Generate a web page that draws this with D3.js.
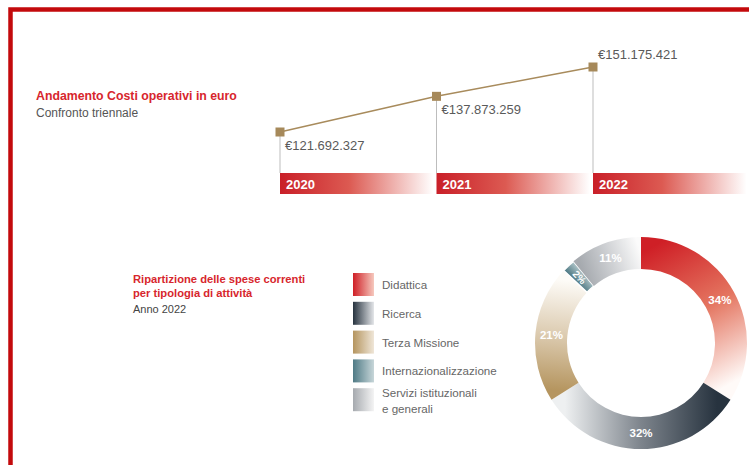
<!DOCTYPE html>
<html>
<head>
<meta charset="utf-8">
<script src="https://cdn.jsdelivr.net/npm/d3@7"></script>
<style>
  html, body { margin: 0; padding: 0; background: #fff; }
  svg { display: block; font-family: "Liberation Sans", Arial, sans-serif; }
</style>
</head>
<body>
<svg id="chart" width="749" height="465"></svg>
<script>
// Operating costs per year (euro)
const years = ["2020", "2021", "2022"];
const costs = [121692327, 137873259, 151175421];
const costLabels = ["€121.692.327", "€137.873.259", "€151.175.421"];

// Current expenditure by activity type, 2022 (%)
const activities = ["Didattica", "Ricerca", "Terza Missione", "Internazionalizzazione", "Servizi istituzionali e generali"];
const shares = [34, 32, 21, 2, 11];
const shareLabels = ["34%", "32%", "21%", "2%", "11%"];
const legendLines = [["Didattica"], ["Ricerca"], ["Terza Missione"], ["Internazionalizzazione"], ["Servizi istituzionali", "e generali"]];
const gradStart = ["#cf1f26", "#27333f", "#b5955f", "#4f7a85", "#a6aaaf"];
const gradMid   = ["#e47560", "#7d848c", "#dccbb0", "#7c9ca3", "#cfd1d4"];
const gradEnd   = ["#fffaf8", "#eef0f1", "#fdfbf7", "#a9c0c5", "#fbfbfb"];
const legendEnd = ["#f6c9be", "#e4e6e9", "#efe6d8", "#c7d6d9", "#f4f4f4"];

const svg = d3.select("#chart");
const defs = svg.append("defs");

// Red page frame
svg.append("path")
  .attr("d", "M10.5,465 L10.5,9.5 L749,9.5")
  .attr("fill", "none").attr("stroke", "#c30a0c").attr("stroke-width", 4.5);

// ---- Line chart: operating costs ----
svg.append("text").attr("x", 36).attr("y", 100)
  .attr("fill", "#d7262d").attr("font-weight", "bold").attr("font-size", 12.3)
  .text("Andamento Costi operativi in euro");
svg.append("text").attr("x", 36).attr("y", 117)
  .attr("fill", "#555").attr("font-size", 12)
  .text("Confronto triennale");

const x = d3.scalePoint().domain(years).range([280, 593]);
const y = d3.scaleLinear().domain([121692327, 151175421]).range([132, 67]);
const bandW = x.step();
const barTop = 173, barH = 21;

const yearGrad = defs.append("linearGradient").attr("id", "yearGrad")
  .attr("x1", 0).attr("x2", 1).attr("y1", 0).attr("y2", 0);
yearGrad.append("stop").attr("offset", 0).attr("stop-color", "#c91f28");
yearGrad.append("stop").attr("offset", 0.45).attr("stop-color", "#dc5a52");
yearGrad.append("stop").attr("offset", 1).attr("stop-color", "#ffffff");

const pts = years.map((yr, i) => ({ yr, v: costs[i], label: costLabels[i] }));

// year bands
svg.selectAll("rect.year").data(pts).join("rect").attr("class", "year")
  .attr("x", d => x(d.yr)).attr("y", barTop)
  .attr("width", bandW - 3).attr("height", barH)
  .attr("fill", "url(#yearGrad)");
svg.selectAll("text.year").data(pts).join("text").attr("class", "year")
  .attr("x", d => x(d.yr) + 6).attr("y", barTop + 15.5)
  .attr("fill", "#fff").attr("font-weight", "bold").attr("font-size", 13)
  .text(d => d.yr);

// drop lines
svg.selectAll("line.drop").data(pts).join("line").attr("class", "drop")
  .attr("x1", d => x(d.yr)).attr("x2", d => x(d.yr))
  .attr("y1", d => y(d.v)).attr("y2", barTop)
  .attr("stroke", "#bdbdbd").attr("stroke-width", 1);

// trend line
svg.append("path").datum(pts)
  .attr("d", d3.line().x(d => x(d.yr)).y(d => y(d.v)))
  .attr("fill", "none").attr("stroke", "#a88b5c").attr("stroke-width", 1.5);

// markers
svg.selectAll("rect.mark").data(pts).join("rect").attr("class", "mark")
  .attr("x", d => x(d.yr) - 4.5).attr("y", d => y(d.v) - 4.5)
  .attr("width", 9).attr("height", 9).attr("fill", "#a6895a");

// value labels
svg.selectAll("text.val").data(pts).join("text").attr("class", "val")
  .attr("x", d => x(d.yr) + 5).attr("y", (d, i) => i === 2 ? y(d.v) - 8 : y(d.v) + 18)
  .attr("fill", "#5a5a5a").attr("font-size", 13)
  .text(d => d.label);

// ---- Donut: expenditure by activity ----
svg.append("text").attr("x", 133).attr("y", 283)
  .attr("fill", "#d7262d").attr("font-weight", "bold").attr("font-size", 11.2)
  .text("Ripartizione delle spese correnti");
svg.append("text").attr("x", 133).attr("y", 297)
  .attr("fill", "#d7262d").attr("font-weight", "bold").attr("font-size", 11.2)
  .text("per tipologia di attività");
svg.append("text").attr("x", 133).attr("y", 313)
  .attr("fill", "#444").attr("font-size", 11)
  .text("Anno 2022");

// legend
const lg = svg.append("g").attr("transform", "translate(353,273)");
activities.forEach((a, i) => {
  const g = defs.append("linearGradient").attr("id", "lg" + i)
    .attr("x1", 0).attr("x2", 1).attr("y1", 0).attr("y2", 0);
  g.append("stop").attr("offset", 0).attr("stop-color", gradStart[i]);
  g.append("stop").attr("offset", 1).attr("stop-color", legendEnd[i]);
});
const item = lg.selectAll("g").data(activities).join("g")
  .attr("transform", (d, i) => `translate(0,${i * 28.8})`);
item.append("rect").attr("width", 21).attr("height", 23)
  .attr("fill", (d, i) => `url(#lg${i})`);
item.each(function (d, i) {
  const lines = legendLines[i];
  const t = d3.select(this).append("text").attr("x", 29)
    .attr("fill", "#666").attr("font-size", 11.6);
  lines.forEach((l, j) => {
    t.append("tspan").attr("x", 29)
      .attr("y", lines.length === 1 ? 16 : 9 + j * 15.5).text(l);
  });
});

// donut
const cx = 641, cy = 343, rOut = 106, rIn = 74;
const dg = svg.append("g").attr("transform", `translate(${cx},${cy})`);
const pie = d3.pie().sort(null).value(d => d.v);
const arcs = pie(shares.map((v, i) => ({ v, i })));
const arc = d3.arc().innerRadius(rIn).outerRadius(rOut);
const rMid = (rIn + rOut) / 2;
const pt = (a, r) => [r * Math.sin(a), -r * Math.cos(a)];

arcs.forEach(a => {
  const i = a.data.i;
  const [x1, y1] = pt(a.startAngle, rMid);
  const [x2, y2] = pt(a.endAngle, rMid);
  const g = defs.append("linearGradient").attr("id", "dg" + i)
    .attr("gradientUnits", "userSpaceOnUse")
    .attr("x1", x1).attr("y1", y1).attr("x2", x2).attr("y2", y2);
  g.append("stop").attr("offset", 0).attr("stop-color", gradStart[i]);
  g.append("stop").attr("offset", 0.5).attr("stop-color", gradMid[i]);
  g.append("stop").attr("offset", 1).attr("stop-color", gradEnd[i]);
});

dg.selectAll("path").data(arcs).join("path")
  .attr("d", arc)
  .attr("fill", d => `url(#dg${d.data.i})`)
  .attr("stroke", d => d.data.i === 3 ? "#fff" : "none")
  .attr("stroke-width", 1.5);

dg.selectAll("text").data(arcs).join("text")
  .attr("transform", d => {
    const m = (d.startAngle + d.endAngle) / 2;
    const [tx, ty] = pt(m, rMid);
    const rot = d.data.i === 3 ? (m * 180 / Math.PI - 270) : 0;
    return `translate(${tx},${ty}) rotate(${rot})`;
  })
  .attr("text-anchor", "middle").attr("dy", "0.35em")
  .attr("fill", "#fff").attr("font-weight", "bold")
  .attr("font-size", d => d.data.i === 3 ? 10 : 11.5)
  .text(d => shareLabels[d.data.i]);
</script>
</body>
</html>
